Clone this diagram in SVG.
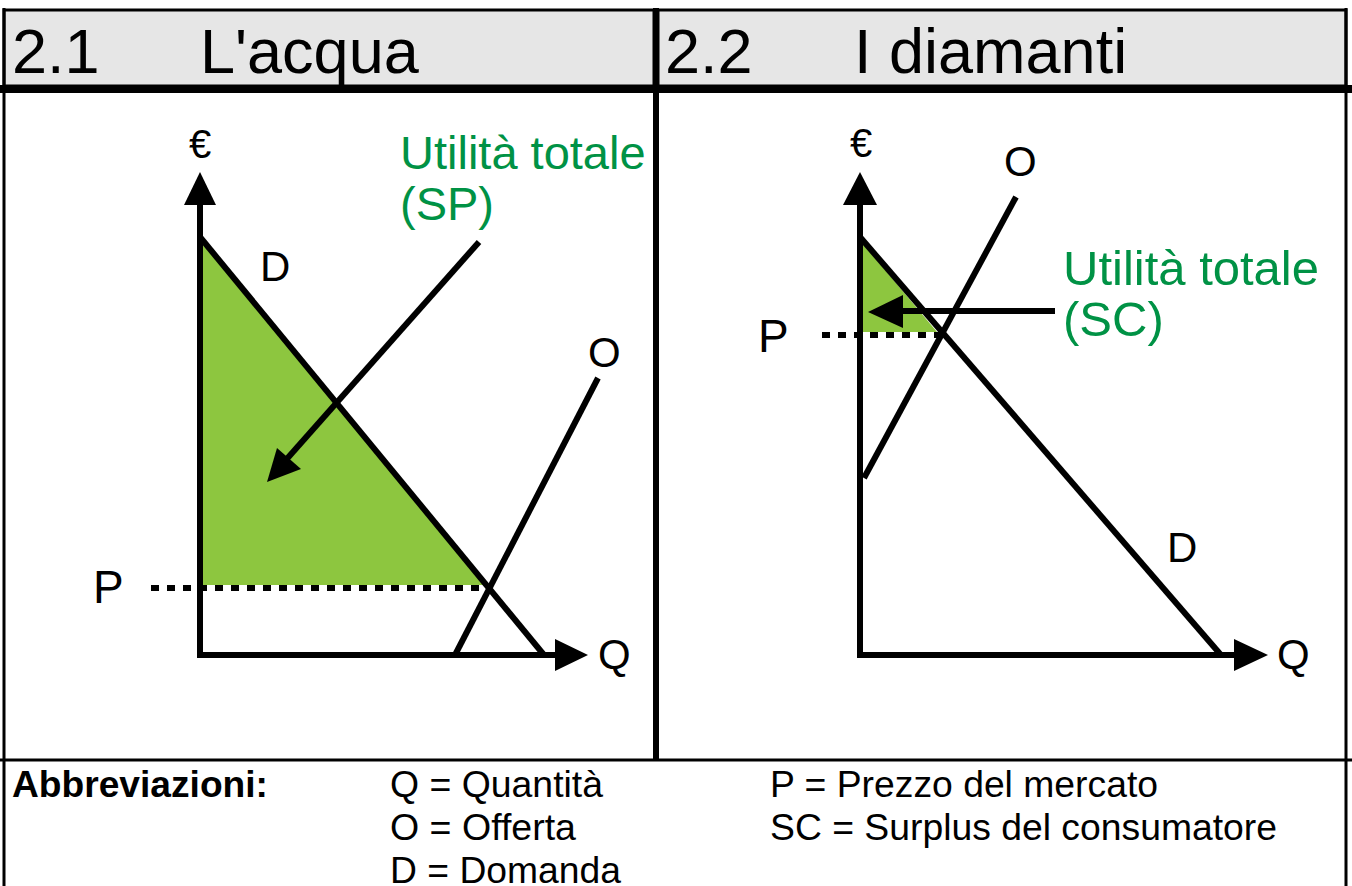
<svg xmlns="http://www.w3.org/2000/svg" width="1352" height="886" viewBox="0 0 1352 886">
<style>
.t{font-family:"Liberation Sans",Arial,sans-serif;fill:#000}
.h{font-size:63px}
.lab{font-size:42px}
.pl{font-size:46px}
.eu{font-size:40px}
.g{font-family:"Liberation Sans",Arial,sans-serif;font-size:47px;fill:#009245}
.g2{font-family:"Liberation Sans",Arial,sans-serif;font-size:49px;fill:#009245}
.leg{font-size:36px}
.ln{stroke:#000;stroke-width:6;fill:none}
.dot{stroke:#000;stroke-width:6;stroke-dasharray:8 8;fill:none}
.fill{fill:#8dc63f}
</style>
<rect width="1352" height="886" fill="#fff"/>
<g id="frame">
<rect x="4" y="10" width="650" height="76" fill="#e6e6e6" stroke="#000" stroke-width="3"/>
<rect x="658" y="10" width="688" height="76" fill="#e6e6e6" stroke="#000" stroke-width="3"/>
<line x1="4" y1="8" x2="4" y2="886" stroke="#000" stroke-width="3"/>
<line x1="1346" y1="8" x2="1346" y2="886" stroke="#000" stroke-width="3"/>
<line x1="656" y1="8" x2="656" y2="760" stroke="#000" stroke-width="6"/>
<line x1="0" y1="89" x2="1352" y2="89" stroke="#000" stroke-width="8"/>
<line x1="0" y1="760" x2="1352" y2="760" stroke="#000" stroke-width="3"/>
<text class="t h" x="12" y="73">2.1</text>
<text class="t h" x="200" y="73">L'acqua</text>
<text class="t h" x="665" y="73">2.2</text>
<text class="t h" x="854" y="73">I diamanti</text>
</g>
<g id="chart-acqua">
<polygon class="fill" points="200,240 486,585 200,585"/>
<line class="dot" x1="151" y1="588" x2="488" y2="588"/>
<line class="ln" x1="200" y1="658" x2="200" y2="200"/>
<polygon points="200,172 184,205 216,205"/>
<line class="ln" x1="197" y1="655" x2="558" y2="655"/>
<polygon points="588,655 555,639 555,671"/>
<line class="ln" x1="200" y1="237" x2="544" y2="655"/>
<line class="ln" x1="455" y1="655" x2="598" y2="378"/>
<text class="t eu" x="200" y="158" text-anchor="middle">€</text>
<text class="t lab" x="260" y="281">D</text>
<text class="t lab" x="588" y="367">O</text>
<text class="t lab" x="598" y="669">Q</text>
<text class="t pl" x="93" y="603">P</text>
<text class="g" x="400" y="169">Utilità totale</text>
<text class="g" x="400" y="220">(SP)</text>
</g>
<g id="chart-diamanti">
<polygon class="fill" points="860,240 937,332 860,332"/>
<line class="dot" x1="822" y1="335" x2="940" y2="335"/>
<line class="ln" x1="860" y1="658" x2="860" y2="200"/>
<polygon points="860,172 843,205 877,205"/>
<line class="ln" x1="857" y1="655" x2="1236" y2="655"/>
<polygon points="1268,655 1234,639 1234,671"/>
<line class="ln" x1="860" y1="237" x2="1221" y2="655"/>
<line class="ln" x1="864" y1="478" x2="1016" y2="197"/>
<text class="t eu" x="861" y="157" text-anchor="middle">€</text>
<text class="t lab" x="1004" y="176">O</text>
<text class="t lab" x="1167" y="562">D</text>
<text class="t lab" x="1277" y="669">Q</text>
<text class="t pl" x="758" y="352">P</text>
<text class="g2" x="1063" y="285">Utilità totale</text>
<text class="g2" x="1063" y="336">(SC)</text>
</g>
<g id="connectors">
<line class="ln" x1="479" y1="242" x2="285" y2="461"/>
<polygon points="267,482 277,448 301,469"/>
<line class="ln" x1="1055" y1="311" x2="900" y2="311"/>
<polygon points="868,312 903,295 903,328"/>
</g>
<g id="legend">
<text class="t leg" x="12" y="797" font-weight="bold" textLength="256" lengthAdjust="spacingAndGlyphs">Abbreviazioni:</text>
<text class="t leg" x="390" y="797" textLength="213" lengthAdjust="spacingAndGlyphs">Q = Quantità</text>
<text class="t leg" x="390" y="840" textLength="186" lengthAdjust="spacingAndGlyphs">O = Offerta</text>
<text class="t leg" x="390" y="883" textLength="231" lengthAdjust="spacingAndGlyphs">D = Domanda</text>
<text class="t leg" x="770" y="797" textLength="388" lengthAdjust="spacingAndGlyphs">P = Prezzo del mercato</text>
<text class="t leg" x="770" y="840" textLength="507" lengthAdjust="spacingAndGlyphs">SC = Surplus del consumatore</text>
</g>
</svg>
